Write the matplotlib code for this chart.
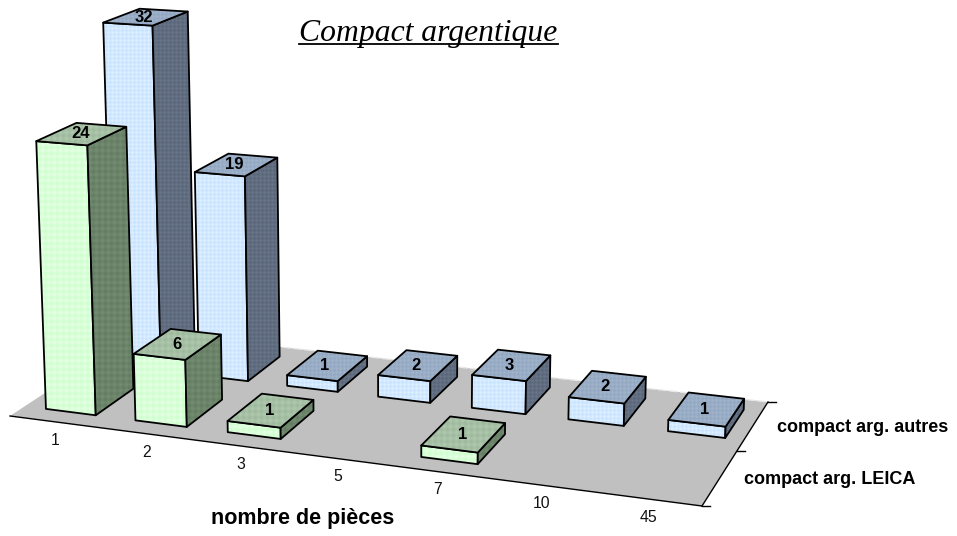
import numpy as np
import matplotlib
matplotlib.use("Agg")
import matplotlib.pyplot as plt
from matplotlib.patches import Polygon
from matplotlib.colors import to_rgb

# --- data ---
categories = ["1", "2", "3", "5", "7", "10", "45"]
series_names = ["compact arg. LEICA", "compact arg. autres"]
leica = [24, 6, 1, 0, 1, 0, 0]
autres = [32, 19, 1, 2, 3, 2, 1]
title = "Compact argentique"
xlabel = "nombre de pièces"

# --- 3D projection (floor homography + vertical column) ---
n_cat, n_ser = len(categories), len(series_names)
src = [(0, 0), (n_cat, 0), (n_cat, n_ser), (0, n_ser)]
dst = [(10, 416), (702, 506), (768, 402), (139, 331)]
A, b = [], []
for (u, v), (x, y) in zip(src, dst):
    A.append([u, v, 1, 0, 0, 0, -u * x, -v * x]); b.append(x)
    A.append([0, 0, 0, u, v, 1, -u * y, -v * y]); b.append(y)
h = np.linalg.solve(np.array(A, float), np.array(b, float))
H = np.array([[h[0], h[1], h[2]], [h[3], h[4], h[5]], [h[6], h[7], 1.0]])
p3 = -10.95 / 9600.0
Pz = np.array([393 * p3, 10000 * p3, p3])


def proj(u, v, z=0.0):
    q = H @ np.array([u, v, 1.0]) + Pz * z
    return q[0] / q[2], q[1] / q[2]


GAP_U, GAP_V = 0.22, 0.21
U_SHIFT = {0: 0.02, 1: 0.04}
LABEL_DX = {0: -1, 1: -2.5}

fig = plt.figure(figsize=(9.57, 5.36), dpi=100)
ax = fig.add_axes([0, 0, 1, 1])
ax.set_xlim(0, 957)
ax.set_ylim(536, 0)
ax.axis("off")

# floor
corners = [proj(*c) for c in src]
ax.add_patch(Polygon(corners, closed=True, fc="#C0C0C0", ec="none", zorder=1))
ax.plot(*zip(corners[3], corners[2]), color="#E8E8E8", lw=1, ls=(0, (6, 2)), zorder=1.5)
ax.plot(*zip(corners[0], corners[1]), color="black", lw=1, zorder=1.5)
ax.plot(*zip(corners[1], corners[2]), color="black", lw=1, zorder=1.5)
for v in range(n_ser + 1):
    x, y = proj(n_cat, v)
    ax.plot([x, x + 8], [y, y], color="black", lw=1, zorder=1.5)

# styles: (low colour, high colour) for front, side, top faces; pattern period in px
styles = {
    0: ((("#CDFFCD", "#E6FFE6"), ("#627C62", "#748C72"), ("#9DB99D", "#B0C8AE")), 6.0),
    1: ((("#C6E2FF", "#E0F0FF"), ("#586478", "#6A7688"), ("#90A6C2", "#A2B4CA")), 4.0),
}

zo = 2


def face(pts, colors, period):
    global zo
    pts = np.array(pts)
    x0, x1 = int(pts[:, 0].min()) - 1, int(pts[:, 0].max()) + 2
    y0, y1 = int(pts[:, 1].min()) - 1, int(pts[:, 1].max()) + 2
    yy, xx = np.mgrid[y0:y1, x0:x1]
    t = 0.5 + 0.25 * (np.cos(2 * np.pi * xx / period) + np.cos(2 * np.pi * yy / period))
    lo, hi = np.array(to_rgb(colors[0])), np.array(to_rgb(colors[1]))
    img = lo + t[..., None] * (hi - lo)
    clip = Polygon(pts, closed=True, transform=ax.transData)
    ax.imshow(img, extent=(x0, x1, y1, y0), interpolation="bilinear", aspect="auto",
              clip_path=clip, zorder=zo)
    ax.add_patch(Polygon(pts, closed=True, fc="none", ec="black", lw=1.3, joinstyle="round", zorder=zo + 0.1))
    zo += 0.2


def bar(i, s, val):
    global zo
    u0, u1 = i + GAP_U + U_SHIFT[s], i + 1 - GAP_U + U_SHIFT[s]
    v0, v1 = s + GAP_V, s + 1 - GAP_V
    (front, side, top), period = styles[s]
    face([proj(u0, v0), proj(u1, v0), proj(u1, v0, val), proj(u0, v0, val)], front, period)
    face([proj(u1, v0), proj(u1, v1), proj(u1, v1, val), proj(u1, v0, val)], side, period)
    face([proj(u0, v0, val), proj(u1, v0, val), proj(u1, v1, val), proj(u0, v1, val)], top, period)
    cx, cy = proj((u0 + u1) / 2, (v0 + v1) / 2, val)
    ax.text(cx + LABEL_DX[s], cy - 1.5, str(val), ha="center", va="center_baseline", fontsize=12, fontweight="bold",
            family="Liberation Sans", color="black", zorder=zo)
    zo += 0.2


for s, vals in [(1, autres), (0, leica)]:
    for i in reversed(range(n_cat)):
        if vals[i]:
            bar(i, s, vals[i])

# category labels
for i, lab in enumerate(categories):
    x, y = proj(i + 0.5, 0)
    ax.text(x + 1, y + 17, lab, ha="center", va="center_baseline", fontsize=11.3,
            family="Liberation Sans", color="#111111", zorder=50)

# series labels
for s, lab in enumerate(series_names):
    x, y = proj(n_cat, s + 0.5)
    ax.text(x + 24, y + 1.5, lab, ha="left", va="center", fontsize=13, fontweight="bold",
            family="Liberation Sans", color="black", zorder=50)

ax.text(303, 518.5, xlabel, ha="center", va="center", fontsize=15.5, fontweight="bold",
        family="Liberation Sans", color="black", zorder=50)

t = ax.text(428.5, 33, title, ha="center", va="center", fontsize=22.8, style="italic",
            family="Liberation Serif", color="black", zorder=50)
fig.canvas.draw()
bb = t.get_window_extent().transformed(ax.transData.inverted())
ax.plot([bb.x0, bb.x1], [43.5, 43.5], color="black", lw=1.3, zorder=50)

ax.set_xlim(0, 957)
ax.set_ylim(536, 0)
fig.savefig("out.png", dpi=100)
